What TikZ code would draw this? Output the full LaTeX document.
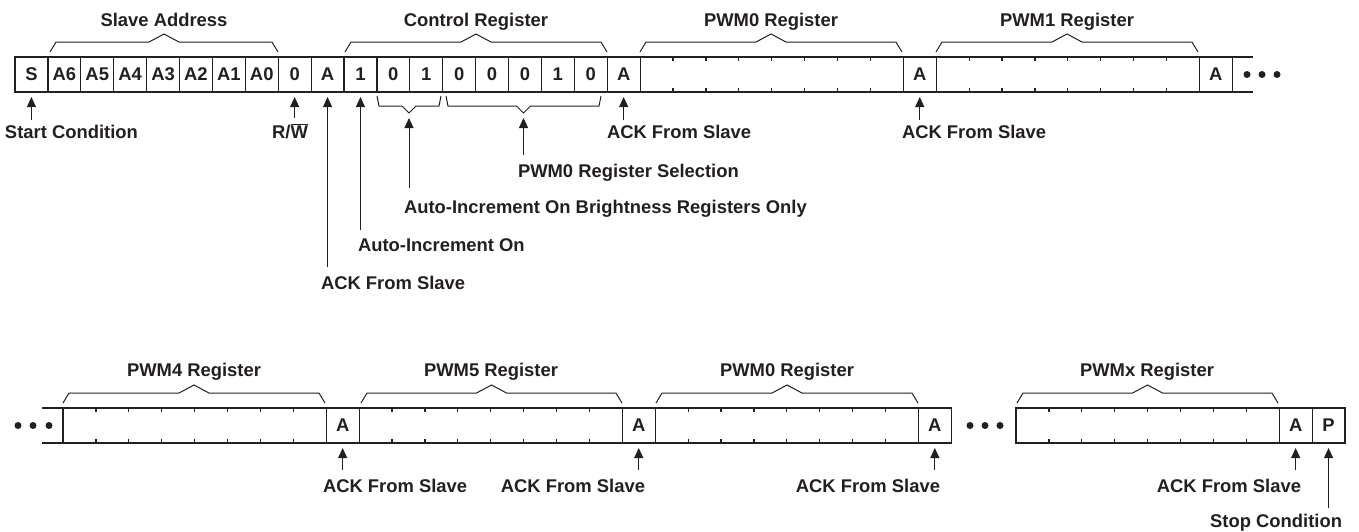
\documentclass[tikz,border=0pt]{standalone}
\usepackage{fontspec}
\setmainfont{Liberation Sans}
\usetikzlibrary{arrows.meta,calc}
\definecolor{ink}{RGB}{35,31,32}
\newcommand\upbrace[3]{%
  \draw[brc] (#1,#3) -- ({#1+6},{#3-10}) -- ({(#1+#2)/2-15},{#3-10}) -- ({(#1+#2)/2},{#3-18}) -- ({(#1+#2)/2+15},{#3-10}) -- ({#2-6},{#3-10}) -- (#2,#3);}
\newcommand\downbrace[2]{%
  \draw[brc] (#1,96) -- ({#1+2},106) -- ({(#1+#2)/2-7},106) -- ({(#1+#2)/2},113) -- ({(#1+#2)/2+7},106) -- ({#2-2},106) -- (#2,96);}
\begin{document}
\begin{tikzpicture}[x=1pt,y=-1pt,
  lbl/.style={font=\fontsize{18.4}{20}\selectfont\bfseries, text=ink, inner sep=0pt, outer sep=0pt},
  cell/.style={draw=ink, line width=1.2pt, minimum width=32.9pt, minimum height=35pt, inner sep=0pt, outer sep=0pt, font=\fontsize{18.4}{20}\selectfont\bfseries, text=ink, anchor=north west},
  datacell/.style={cell, minimum width=263.2pt},
  tick/.style={draw=ink, line width=1.2pt},
  brc/.style={draw=ink, line width=1pt},
  arr/.style={draw=ink, line width=1pt, shorten >=5pt, -{Triangle[width=9pt,length=10pt]}},
  blob/.style={circle, fill=ink, inner sep=0pt, minimum size=7pt}]
\useasboundingbox (0,0) rectangle (1359,531);

% ---------- top row ----------
\foreach \txt [count=\i from 0] in {S,A6,A5,A4,A3,A2,A1,A0,0,A,1,0,1,0,0,0,1,0,A}
  \node[cell] (t\i) at ({15+32.9*\i},57) {\txt};
\node[datacell] (d1) at ({15+32.9*19},57) {};
\node[cell] (t27) at ({15+32.9*27},57) {A};
\node[datacell] (d2) at ({15+32.9*28},57) {};
\node[cell] (t36) at ({15+32.9*36},57) {A};
\draw[tick] (t36.north east) -- ++(21,0);
\draw[tick] (t36.south east) -- ++(21,0);
\node[blob] (e1) at (1247,74.5) {};
\node[blob] (e2) at (1262,74.5) {};
\node[blob] (e3) at (1277,74.5) {};

% ---------- bottom row ----------
\node[datacell] (b1) at (63,408) {};
\node[cell] (ba1) at (326.2,408) {A};
\node[datacell] (b2) at (359.1,408) {};
\node[cell] (ba2) at (622.3,408) {A};
\node[datacell] (b3) at (655.2,408) {};
\node[cell] (ba3) at (918.4,408) {A};
\node[datacell] (b4) at (1016,408) {};
\node[cell] (ba4) at (1279.2,408) {A};
\node[cell] (bp) at (1312.1,408) {P};
\draw[tick] (b1.north west) -- ++(-21,0);
\draw[tick] (b1.south west) -- ++(-21,0);
\node[blob] (f1) at (18,425.5) {};
\node[blob] (f2) at (33,425.5) {};
\node[blob] (f3) at (49,425.5) {};
\node[blob] (g1) at (970,425.5) {};
\node[blob] (g2) at (985,425.5) {};
\node[blob] (g3) at (1000,425.5) {};

% ticks in the data cells
\foreach \dn in {d1,d2,b1,b2,b3,b4}{
  \foreach \k in {1,...,7}{
    \draw[tick] ($(\dn.north west)+(\k*32.9,0)$) -- ++(0,4);
    \draw[tick] ($(\dn.south west)+(\k*32.9,0)$) -- ++(0,-4);
  }
}

% ---------- braces and titles ----------
\upbrace{50}{278}{52}
\upbrace{345}{607}{52}
\upbrace{640}{902}{52}
\upbrace{936}{1198}{52}
\node[lbl, anchor=base] (h1) at (164,26.5) {Slave Address};
\node[lbl, anchor=base] (h2) at (476,26.5) {Control Register};
\node[lbl, anchor=base] (h3) at (771,26.5) {PWM0 Register};
\node[lbl, anchor=base] (h4) at (1067,26.5) {PWM1 Register};

\upbrace{63}{325}{403}
\upbrace{361}{622}{403}
\upbrace{656}{918}{403}
\upbrace{1017}{1278}{403}
\node[lbl, anchor=base] (h5) at (194,376.5) {PWM4 Register};
\node[lbl, anchor=base] (h6) at (491,376.5) {PWM5 Register};
\node[lbl, anchor=base] (h7) at (787,376.5) {PWM0 Register};
\node[lbl, anchor=base] (h8) at (1147,376.5) {PWMx Register};

\downbrace{377}{441}
\downbrace{446}{601}
\coordinate (k1) at (409,113);
\coordinate (k2) at (523.5,113);

% ---------- labels and arrows, top ----------
\node[lbl, anchor=base west] (l1) at (5,138) {Start Condition};
\coordinate (a1) at ($(t0.south)+(0,28)$);
\draw[arr] (a1) -- (t0.south);

\node[lbl, anchor=base] (l2) at (290,138) {R/$\overline{\hbox{W}}$};
\coordinate (a2) at ($(t8.south)+(0,26)$);
\draw[arr] (a2) -- (t8.south);

\node[lbl, anchor=base west] (l3) at (321,289) {ACK From Slave};
\coordinate (a3) at ($(t9.south)+(0,175)$);
\draw[arr] (a3) -- (t9.south);

\node[lbl, anchor=base west] (l4) at (358,251) {Auto-Increment On};
\coordinate (a4) at ($(t10.south)+(0,138)$);
\draw[arr] (a4) -- (t10.south);

\node[lbl, anchor=base west] (l5) at (404,213) {Auto-Increment On Brightness Registers Only};
\coordinate (a5) at (409,188);
\draw[arr] (a5) -- (k1);

\node[lbl, anchor=base west] (l6) at (518,177) {PWM0 Register Selection};
\coordinate (a6) at (523.5,155);
\draw[arr] (a6) -- (k2);

\node[lbl, anchor=base west] (l7) at (607,138) {ACK From Slave};
\coordinate (a7) at ($(t18.south)+(0,28)$);
\draw[arr] (a7) -- (t18.south);

\node[lbl, anchor=base west] (l8) at (902,138) {ACK From Slave};
\coordinate (a8) at ($(t27.south)+(0,28)$);
\draw[arr] (a8) -- (t27.south);

% ---------- labels and arrows, bottom ----------
\node[lbl, anchor=base west] (m1) at (323,492) {ACK From Slave};
\coordinate (c1) at ($(ba1.south)+(0,27)$);
\draw[arr] (c1) -- (ba1.south);

\node[lbl, anchor=base east] (m2) at (645,492) {ACK From Slave};
\coordinate (c2) at ($(ba2.south)+(0,27)$);
\draw[arr] (c2) -- (ba2.south);

\node[lbl, anchor=base east] (m3) at (940,492) {ACK From Slave};
\coordinate (c3) at ($(ba3.south)+(0,27)$);
\draw[arr] (c3) -- (ba3.south);

\node[lbl, anchor=base east] (m4) at (1301,492) {ACK From Slave};
\coordinate (c4) at ($(ba4.south)+(0,27)$);
\draw[arr] (c4) -- (ba4.south);

\node[lbl, anchor=base east] (m5) at (1342,527) {Stop Condition};
\coordinate (c5) at ($(bp.south)+(0,65)$);
\draw[arr] (c5) -- (bp.south);
\end{tikzpicture}
\end{document}
